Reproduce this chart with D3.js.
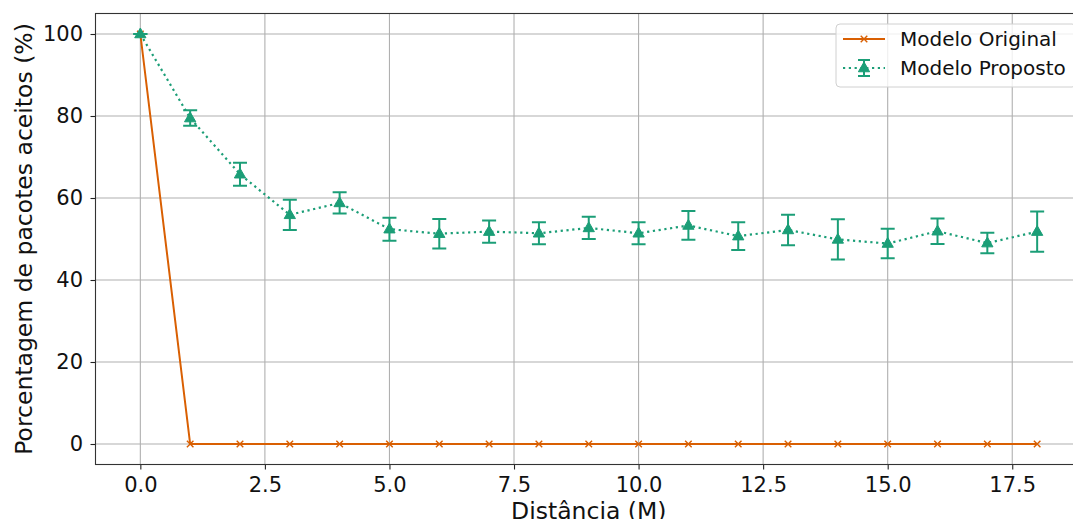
<!DOCTYPE html>
<html>
<head>
<meta charset="utf-8">
<script src="https://cdn.jsdelivr.net/npm/d3@7"></script>
<style>
  body { margin: 0; background: #fff; }
  svg { font-family: "DejaVu Sans", sans-serif; }
</style>
</head>
<body>
<div id="chart"></div>
<script>
// distances (M)
var distancias = [0, 1, 2, 3, 4, 5, 6, 7, 8, 9, 10, 11, 12, 13, 14, 15, 16, 17, 18];
var original = [100, 0, 0, 0, 0, 0, 0, 0, 0, 0, 0, 0, 0, 0, 0, 0, 0, 0, 0];
var proposto = [100, 79.5, 65.8, 55.9, 58.8, 52.4, 51.3, 51.8, 51.4, 52.7, 51.4, 53.3, 50.7, 52.2, 49.9, 48.9, 51.9, 49.0, 51.8];
var erro = [0, 1.9, 2.8, 3.7, 2.6, 2.8, 3.6, 2.7, 2.7, 2.7, 2.7, 3.5, 3.4, 3.7, 4.9, 3.6, 3.1, 2.5, 4.9];
var xTicks = [0, 2.5, 5, 7.5, 10, 12.5, 15, 17.5];
var yTicks = [0, 20, 40, 60, 80, 100];

var width = 1073, height = 519;
var mLeft = 95.5, mRight = 1082, mTop = 13.5, mBottom = 464.5;
var laranja = "#d95f02", verde = "#1b9e77";
var fs = "21px", fsLabel = "23.5px";

var svg = d3.select("#chart").append("svg")
  .attr("width", width)
  .attr("height", height);

var x = d3.scaleLinear().domain([-0.9, 18.9]).range([mLeft, mRight]);
var y = d3.scaleLinear().domain([-5, 105]).range([mBottom, mTop]);

svg.append("clipPath").attr("id", "plot")
  .append("rect").attr("x", mLeft).attr("y", mTop)
  .attr("width", mRight - mLeft).attr("height", mBottom - mTop);

// grid
var grid = svg.append("g");
grid.selectAll(".gx").data(xTicks).enter().append("line")
  .attr("x1", function(d) { return x(d); }).attr("x2", function(d) { return x(d); })
  .attr("y1", mTop).attr("y2", mBottom)
  .attr("stroke", "#b0b0b0").attr("stroke-width", 1.1);
grid.selectAll(".gy").data(yTicks).enter().append("line")
  .attr("y1", function(d) { return y(d); }).attr("y2", function(d) { return y(d); })
  .attr("x1", mLeft).attr("x2", mRight)
  .attr("stroke", "#b0b0b0").attr("stroke-width", 1.1);

// axes
var xAxis = svg.append("g")
  .attr("transform", "translate(0," + mBottom + ")")
  .call(d3.axisBottom(x).tickValues(xTicks).tickFormat(d3.format(".1f")).tickSize(5).tickPadding(5));
var yAxis = svg.append("g")
  .attr("transform", "translate(" + mLeft + ",0)")
  .call(d3.axisLeft(y).tickValues(yTicks).tickSize(5).tickPadding(7.5));
[xAxis, yAxis].forEach(function(a) {
  a.select(".domain").remove();
  a.selectAll("line").attr("stroke", "#222").attr("stroke-width", 1.1);
  a.selectAll("text").attr("fill", "#111").style("font-size", fs)
    .style("font-family", "DejaVu Sans, sans-serif");
});
xAxis.selectAll("text").attr("dy", "0.82em");

// frame
svg.append("rect")
  .attr("x", mLeft).attr("y", mTop)
  .attr("width", mRight - mLeft).attr("height", mBottom - mTop)
  .attr("fill", "none").attr("stroke", "#333").attr("stroke-width", 1.1);

var plot = svg.append("g").attr("clip-path", "url(#plot)");

// original model
var line = d3.line()
  .x(function(d, i) { return x(distancias[i]); })
  .y(function(d) { return y(d); });

plot.append("path").datum(original)
  .attr("d", line)
  .attr("fill", "none").attr("stroke", laranja).attr("stroke-width", 2);

var cross = d3.symbol().type(d3.symbolX).size(30);
plot.selectAll(".xo").data(original).enter().append("path")
  .attr("d", cross)
  .attr("transform", function(d, i) { return "translate(" + x(distancias[i]) + "," + y(d) + ")"; })
  .attr("fill", "none").attr("stroke", laranja).attr("stroke-width", 1.4);

// proposed model
plot.append("path").datum(proposto)
  .attr("d", line)
  .attr("fill", "none").attr("stroke", verde).attr("stroke-width", 2.2)
  .attr("stroke-dasharray", "2.2,3.6");

var eb = plot.selectAll(".eb").data(proposto).enter().append("g")
  .attr("stroke", verde).attr("stroke-width", 2);
eb.append("line")
  .attr("x1", function(d, i) { return x(distancias[i]); })
  .attr("x2", function(d, i) { return x(distancias[i]); })
  .attr("y1", function(d, i) { return y(d + erro[i]); })
  .attr("y2", function(d, i) { return y(d - erro[i]); });
eb.append("line")
  .attr("x1", function(d, i) { return x(distancias[i]) - 7; })
  .attr("x2", function(d, i) { return x(distancias[i]) + 7; })
  .attr("y1", function(d, i) { return y(d + erro[i]); })
  .attr("y2", function(d, i) { return y(d + erro[i]); });
eb.append("line")
  .attr("x1", function(d, i) { return x(distancias[i]) - 7; })
  .attr("x2", function(d, i) { return x(distancias[i]) + 7; })
  .attr("y1", function(d, i) { return y(d - erro[i]); })
  .attr("y2", function(d, i) { return y(d - erro[i]); });

var tri = d3.symbol().type(d3.symbolTriangle).size(55);
plot.selectAll(".tri").data(proposto).enter().append("path")
  .attr("d", tri)
  .attr("transform", function(d, i) { return "translate(" + x(distancias[i]) + "," + (y(d) + 0.5) + ")"; })
  .attr("fill", verde).attr("stroke", verde).attr("stroke-width", 1);

// labels
svg.append("text")
  .attr("x", (mLeft + mRight) / 2).attr("y", 519)
  .attr("text-anchor", "middle")
  .style("font-size", fsLabel).attr("fill", "#111")
  .text("Distância (M)");
svg.append("text")
  .attr("transform", "translate(32," + ((mTop + mBottom) / 2) + ") rotate(-90)")
  .attr("text-anchor", "middle")
  .style("font-size", fsLabel).attr("fill", "#111")
  .text("Porcentagem de pacotes aceitos (%)");

// legend
var lg = svg.append("g").attr("transform", "translate(836,24)");
lg.append("rect")
  .attr("x", 0).attr("y", 0).attr("width", 240).attr("height", 63)
  .attr("rx", 4)
  .attr("fill", "#fff").attr("fill-opacity", 0.8)
  .attr("stroke", "#d0d0d0").attr("stroke-width", 1);

lg.append("line").attr("x1", 7).attr("x2", 49).attr("y1", 15).attr("y2", 15)
  .attr("stroke", laranja).attr("stroke-width", 2);
lg.append("path").attr("d", cross).attr("transform", "translate(28,15)")
  .attr("fill", "none").attr("stroke", laranja).attr("stroke-width", 1.4);
lg.append("text").attr("x", 64).attr("y", 15).attr("dy", "0.35em")
  .style("font-size", "20px").attr("fill", "#111").text("Modelo Original");

var ly = 44;
lg.append("line").attr("x1", 7).attr("x2", 49).attr("y1", ly).attr("y2", ly)
  .attr("stroke", verde).attr("stroke-width", 2.2).attr("stroke-dasharray", "2.2,3.6");
lg.append("line").attr("x1", 28).attr("x2", 28).attr("y1", ly - 8).attr("y2", ly + 8)
  .attr("stroke", verde).attr("stroke-width", 2);
lg.append("line").attr("x1", 22).attr("x2", 34).attr("y1", ly - 8).attr("y2", ly - 8)
  .attr("stroke", verde).attr("stroke-width", 2);
lg.append("line").attr("x1", 22).attr("x2", 34).attr("y1", ly + 8).attr("y2", ly + 8)
  .attr("stroke", verde).attr("stroke-width", 2);
lg.append("path").attr("d", tri).attr("transform", "translate(28," + (ly + 0.5) + ")")
  .attr("fill", verde).attr("stroke", verde);
lg.append("text").attr("x", 64).attr("y", ly).attr("dy", "0.35em")
  .style("font-size", "20px").attr("fill", "#111").text("Modelo Proposto");
</script>
</body>
</html>
